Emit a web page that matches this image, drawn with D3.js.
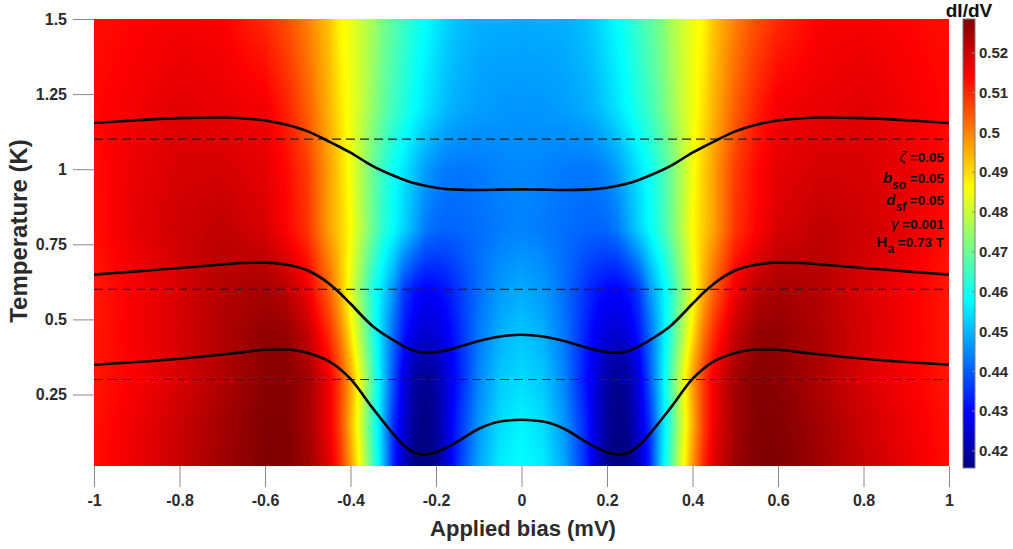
<!DOCTYPE html>
<html>
<head>
<meta charset="utf-8">
<script src="https://cdn.jsdelivr.net/npm/d3@7"></script>
<style>
  body { margin: 0; background: #fff; }
  text { font-family: "Liberation Sans", Arial, Helvetica, sans-serif; }
</style>
</head>
<body>
<svg id="chart" width="1013" height="549"></svg>
<script>
// ---- data -------------------------------------------------------------
// bias (mV) columns of the dI/dV map
const biasGrid = [-1,-0.9,-0.8,-0.7,-0.6,-0.55,-0.5,-0.45,-0.425,-0.4,-0.375,-0.35,-0.325,-0.3,-0.275,-0.25,-0.225,-0.2,-0.175,-0.15,-0.1,-0.05,
  0,0.05,0.1,0.15,0.175,0.2,0.225,0.25,0.275,0.3,0.325,0.35,0.375,0.4,0.425,0.45,0.5,0.55,0.6,0.7,0.8,0.9,1];
// temperature (K) rows of the map
const tempGrid = [0.012, 0.15, 0.3, 0.45, 0.6, 0.8, 1.0, 1.2, 1.5];
// dI/dV, one row per temperature
const didvGrid = [
  [0.5128,0.5167,0.5206,0.5250,0.5285,0.5284,0.5255,0.5177,0.5098,0.4976,0.4835,0.4669,0.4522,0.4337,0.4229,0.4161,0.4157,0.4171,0.4249,0.4342,0.4483,0.4561,0.4581,0.4561,0.4483,0.4342,0.4249,0.4171,0.4157,0.4161,0.4229,0.4337,0.4522,0.4669,0.4835,0.4976,0.5098,0.5177,0.5255,0.5284,0.5285,0.5250,0.5206,0.5167,0.5128],
  [0.5126,0.5162,0.5201,0.5245,0.5282,0.5282,0.5245,0.5162,0.5074,0.4947,0.4806,0.4649,0.4508,0.4346,0.4254,0.4176,0.4161,0.4185,0.4254,0.4337,0.4464,0.4542,0.4571,0.4542,0.4464,0.4337,0.4254,0.4185,0.4161,0.4176,0.4254,0.4346,0.4508,0.4649,0.4806,0.4947,0.5074,0.5162,0.5245,0.5282,0.5282,0.5245,0.5201,0.5162,0.5126],
  [0.5119,0.5150,0.5187,0.5231,0.5273,0.5277,0.5249,0.5160,0.5075,0.4968,0.4823,0.4672,0.4527,0.4391,0.4268,0.4193,0.4175,0.4199,0.4253,0.4316,0.4445,0.4520,0.4540,0.4520,0.4445,0.4316,0.4253,0.4199,0.4175,0.4193,0.4268,0.4391,0.4527,0.4672,0.4823,0.4968,0.5075,0.5160,0.5249,0.5277,0.5273,0.5231,0.5187,0.5150,0.5119],
  [0.5119,0.5153,0.5189,0.5231,0.5265,0.5260,0.5211,0.5098,0.5011,0.4893,0.4762,0.4635,0.4522,0.4415,0.4322,0.4264,0.4244,0.4254,0.4283,0.4332,0.4430,0.4493,0.4517,0.4493,0.4430,0.4332,0.4283,0.4254,0.4244,0.4264,0.4322,0.4415,0.4522,0.4635,0.4762,0.4893,0.5011,0.5098,0.5211,0.5260,0.5265,0.5231,0.5189,0.5153,0.5119],
  [0.5117,0.5152,0.5187,0.5226,0.5242,0.5221,0.5160,0.5035,0.4947,0.4835,0.4727,0.4620,0.4542,0.4464,0.4363,0.4317,0.4297,0.4304,0.4322,0.4354,0.4420,0.4468,0.4486,0.4468,0.4420,0.4354,0.4322,0.4304,0.4297,0.4317,0.4363,0.4464,0.4542,0.4620,0.4727,0.4835,0.4947,0.5035,0.5160,0.5221,0.5242,0.5226,0.5187,0.5152,0.5117],
  [0.5128,0.5172,0.5198,0.5214,0.5186,0.5144,0.5087,0.4966,0.4917,0.4862,0.4781,0.4702,0.4630,0.4581,0.4532,0.4483,0.4434,0.4413,0.4408,0.4410,0.4420,0.4434,0.4444,0.4434,0.4420,0.4410,0.4408,0.4413,0.4434,0.4483,0.4532,0.4581,0.4630,0.4702,0.4781,0.4862,0.4917,0.4966,0.5087,0.5144,0.5186,0.5214,0.5198,0.5172,0.5128],
  [0.5130,0.5167,0.5187,0.5191,0.5171,0.5137,0.5078,0.4966,0.4912,0.4849,0.4776,0.4703,0.4640,0.4591,0.4552,0.4512,0.4473,0.4449,0.4434,0.4430,0.4434,0.4444,0.4449,0.4444,0.4434,0.4430,0.4434,0.4449,0.4473,0.4512,0.4552,0.4591,0.4640,0.4703,0.4776,0.4849,0.4912,0.4966,0.5078,0.5137,0.5171,0.5191,0.5187,0.5167,0.5130],
  [0.5138,0.5157,0.5177,0.5167,0.5157,0.5110,0.5040,0.4947,0.4893,0.4845,0.4801,0.4745,0.4694,0.4648,0.4616,0.4581,0.4552,0.4527,0.4503,0.4488,0.4473,0.4466,0.4464,0.4466,0.4473,0.4488,0.4503,0.4527,0.4552,0.4581,0.4616,0.4648,0.4694,0.4745,0.4801,0.4845,0.4893,0.4947,0.5040,0.5110,0.5157,0.5167,0.5177,0.5157,0.5138],
  [0.5128,0.5142,0.5152,0.5147,0.5098,0.5059,0.5002,0.4927,0.4869,0.4845,0.4805,0.4766,0.4713,0.4679,0.4644,0.4610,0.4583,0.4556,0.4532,0.4512,0.4493,0.4490,0.4488,0.4490,0.4493,0.4512,0.4532,0.4556,0.4583,0.4610,0.4644,0.4679,0.4713,0.4766,0.4805,0.4845,0.4869,0.4927,0.5002,0.5059,0.5098,0.5147,0.5152,0.5142,0.5128]
];

// line cuts at fixed temperatures, drawn in temperature-axis units
const cutTemps = [0.3, 0.6, 1.1];
const cutBias = [-1,-0.9,-0.8,-0.7,-0.65,-0.6,-0.55,-0.5,-0.45,-0.425,-0.4,-0.35,-0.3,-0.275,-0.25,-0.225,-0.2,-0.15,-0.1,-0.05,
  0,0.05,0.1,0.15,0.2,0.225,0.25,0.275,0.3,0.35,0.4,0.425,0.45,0.5,0.55,0.6,0.65,0.7,0.8,0.9,1];
const cutLow = [0.349,0.358,0.369,0.383,0.391,0.399,0.400,0.388,0.360,0.335,0.302,0.208,0.119,0.080,0.056,0.050,0.058,0.093,0.136,0.160,
  0.166,0.160,0.136,0.093,0.058,0.050,0.056,0.080,0.119,0.208,0.302,0.335,0.360,0.388,0.400,0.399,0.391,0.383,0.369,0.358,0.349];
const cutMid = [0.649,0.660,0.671,0.683,0.688,0.689,0.682,0.663,0.619,0.588,0.552,0.480,0.431,0.410,0.395,0.389,0.391,0.407,0.428,0.443,
  0.449,0.443,0.428,0.407,0.391,0.389,0.395,0.410,0.431,0.480,0.552,0.588,0.619,0.663,0.682,0.689,0.688,0.683,0.671,0.660,0.649];
const cutHigh = [1.154,1.163,1.170,1.172,1.169,1.162,1.148,1.126,1.092,1.074,1.055,1.012,0.979,0.965,0.953,0.945,0.938,0.932,0.931,0.932,
  0.933,0.932,0.931,0.932,0.938,0.945,0.953,0.965,0.979,1.012,1.055,1.074,1.092,1.126,1.148,1.162,1.169,1.172,1.170,1.163,1.154];

const xTicks = [-1,-0.8,-0.6,-0.4,-0.2,0,0.2,0.4,0.6,0.8,1];
const yTicks = [0.25,0.5,0.75,1,1.25,1.5];
const cbTicks = [0.42,0.43,0.44,0.45,0.46,0.47,0.48,0.49,0.5,0.51,0.52];
const colorRange = [0.4157, 0.5285];

// ---- layout -----------------------------------------------------------
const svg = d3.select("#chart");
const plot = { left: 94, right: 949, top: 19, bottom: 466 };
const cb = { left: 963, right: 975, top: 19, bottom: 468 };

const x = d3.scaleLinear().domain([-1, 1]).range([plot.left, plot.right]);
const y = d3.scaleLinear().domain([tempGrid[0], tempGrid[tempGrid.length - 1]]).range([plot.bottom, plot.top]);

// jet colormap over the value range
const jetStops = [0, 0.125, 0.375, 0.625, 0.875, 1];
const jetColors = ["#000080", "#0000ff", "#00ffff", "#ffff00", "#ff0000", "#800000"];
const color = d3.scaleLinear()
  .domain(jetStops.map(t => colorRange[0] + t * (colorRange[1] - colorRange[0])))
  .range(jetColors)
  .interpolate(d3.interpolateRgb)
  .clamp(true);

// ---- heatmap ----------------------------------------------------------
const W = Math.round(plot.right - plot.left), H = Math.round(plot.bottom - plot.top);
const canvas = document.createElement("canvas");
canvas.width = W; canvas.height = H;
const ctx = canvas.getContext("2d");
const img = ctx.createImageData(W, H);
const bis = d3.bisector(d => d).right;
function bracket(arr, v) {
  let i = bis(arr, v) - 1;
  i = Math.max(0, Math.min(arr.length - 2, i));
  const f = Math.max(0, Math.min(1, (v - arr[i]) / (arr[i + 1] - arr[i])));
  return [i, f];
}
for (let j = 0; j < H; j++) {
  const T = y.invert(plot.top + j + 0.5);
  const [r, fr] = bracket(tempGrid, T);
  const row0 = didvGrid[r], row1 = didvGrid[r + 1];
  for (let i = 0; i < W; i++) {
    const V = x.invert(plot.left + i + 0.5);
    const [c, fc] = bracket(biasGrid, V);
    const a = row0[c] * (1 - fc) + row0[c + 1] * fc;
    const b = row1[c] * (1 - fc) + row1[c + 1] * fc;
    const val = a * (1 - fr) + b * fr;
    const col = d3.rgb(color(val));
    const k = 4 * (j * W + i);
    img.data[k] = col.r; img.data[k + 1] = col.g; img.data[k + 2] = col.b; img.data[k + 3] = 255;
  }
}
ctx.putImageData(img, 0, 0);
svg.append("image")
  .attr("x", plot.left).attr("y", plot.top)
  .attr("width", W).attr("height", H)
  .attr("preserveAspectRatio", "none")
  .attr("href", canvas.toDataURL());

// ---- dashed reference lines and line cuts -----------------------------
svg.append("g").selectAll("line").data(cutTemps).join("line")
  .attr("x1", x(-1)).attr("x2", x(1))
  .attr("y1", d => y(d)).attr("y2", d => y(d))
  .attr("stroke", "#222").attr("stroke-width", 1.1)
  .attr("stroke-dasharray", "9,5");

const line = d3.line()
  .x((d, i) => x(cutBias[i]))
  .y(d => y(d))
  .curve(d3.curveMonotoneX);
svg.append("g").selectAll("path").data([cutLow, cutMid, cutHigh]).join("path")
  .attr("d", line)
  .attr("fill", "none").attr("stroke", "#000").attr("stroke-width", 2.6);

// ---- axes ------------------------------------------------------------
const tickColor = "#8a8a8a", labelColor = "#2b2b2b";
const gx = svg.append("g").attr("transform", `translate(0,${plot.bottom})`)
  .call(d3.axisBottom(x).tickValues(xTicks).tickSize(21).tickPadding(8).tickFormat(d => String(d)));
const gy = svg.append("g").attr("transform", `translate(${plot.left},0)`)
  .call(d3.axisLeft(y).tickValues(yTicks).tickSize(21).tickPadding(6).tickFormat(d => String(d)));
[gx, gy].forEach(g => {
  g.select(".domain").remove();
  g.selectAll(".tick line").attr("stroke", tickColor);
  g.selectAll(".tick text").attr("fill", labelColor)
    .style("font-size", "16px").style("font-weight", "bold")
    .style("font-family", '"Liberation Sans", Arial, sans-serif');
});

svg.append("text")
  .attr("x", 523).attr("y", 536)
  .attr("text-anchor", "middle")
  .attr("fill", labelColor)
  .style("font-size", "22px").style("font-weight", "bold")
  .text("Applied bias (mV)");

svg.append("text")
  .attr("transform", "translate(27,231) rotate(-90)")
  .attr("text-anchor", "middle")
  .attr("fill", labelColor)
  .style("font-size", "24px").style("font-weight", "bold")
  .text("Temperature (K)");

// ---- colorbar ---------------------------------------------------------
const cbY = d3.scaleLinear().domain(colorRange).range([cb.bottom, cb.top]);
const grad = svg.append("defs").append("linearGradient")
  .attr("id", "jet").attr("x1", 0).attr("y1", 1).attr("x2", 0).attr("y2", 0);
grad.selectAll("stop").data(jetStops).join("stop")
  .attr("offset", d => d)
  .attr("stop-color", (d, i) => jetColors[i]);
svg.append("rect")
  .attr("x", cb.left).attr("y", cb.top)
  .attr("width", cb.right - cb.left).attr("height", cb.bottom - cb.top)
  .attr("fill", "url(#jet)")
  .attr("stroke", "#7a7a7a").attr("stroke-width", 1);
const cbTick = svg.append("g").selectAll("g").data(cbTicks).join("g")
  .attr("transform", d => `translate(0,${cbY(d)})`);
cbTick.append("line")
  .attr("x1", cb.right - 3).attr("x2", cb.right)
  .attr("stroke", tickColor);
cbTick.append("text")
  .attr("x", cb.right + 4).attr("dy", "0.35em")
  .attr("fill", labelColor)
  .style("font-size", "15px").style("font-weight", "bold")
  .text(d => String(d));
svg.append("text")
  .attr("x", 969).attr("y", 17)
  .attr("text-anchor", "middle")
  .attr("fill", "#111")
  .style("font-size", "19px").style("font-weight", "bold")
  .text("dI/dV");

// ---- model parameters -------------------------------------------------
const paramSym = ["ζ", "b", "d", "γ", "H"];
const paramSub = ["", "so", "sf", "", "a"];
const paramVal = ["=0.05", "=0.05", "=0.05", "=0.001", "=0.73 T"];
const paramBase = [162, 183, 205, 229, 247];
const ann = svg.append("g").attr("fill", "#111");
paramSym.forEach((s, i) => {
  const t = ann.append("text")
    .attr("x", 944).attr("y", paramBase[i])
    .attr("text-anchor", "end")
    .style("font-size", "13.5px").style("font-weight", "bold");
  const greek = (s === "ζ" || s === "γ");
  const italic = (s === "b" || s === "d");
  t.append("tspan").text(s)
    .style("font-style", greek || italic ? "italic" : "normal")
    .style("font-weight", greek ? "normal" : "bold")
    .style("font-size", "15px");
  if (paramSub[i]) {
    t.append("tspan").text(paramSub[i]).attr("dy", 6)
      .style("font-size", "12px")
      .style("font-style", italic ? "italic" : "normal");
    t.append("tspan").text(" " + paramVal[i]).attr("dy", -6);
  } else {
    t.append("tspan").text(" " + paramVal[i]);
  }
});
</script>
</body>
</html>
